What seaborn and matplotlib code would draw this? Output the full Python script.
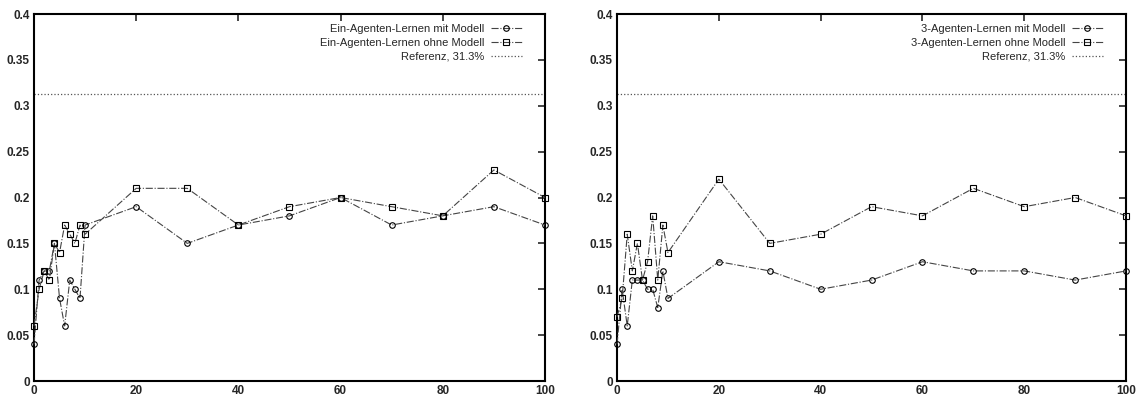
import pandas as pd
import seaborn as sns
from matplotlib import pyplot as plt

x_values = [0, 1, 2, 3, 4, 5, 6, 7, 8, 9, 10, 20, 30, 40, 50, 60, 70, 80, 90, 100]

ein_mit = [0.04, 0.11, 0.12, 0.12, 0.15, 0.09, 0.06, 0.11, 0.10, 0.09, 0.17,
           0.19, 0.15, 0.17, 0.18, 0.20, 0.17, 0.18, 0.19, 0.17]
ein_ohne = [0.06, 0.10, 0.12, 0.11, 0.15, 0.14, 0.17, 0.16, 0.15, 0.17, 0.16,
            0.21, 0.21, 0.17, 0.19, 0.20, 0.19, 0.18, 0.23, 0.20]

drei_mit = [0.04, 0.10, 0.06, 0.11, 0.11, 0.11, 0.10, 0.10, 0.08, 0.12, 0.09,
            0.13, 0.12, 0.10, 0.11, 0.13, 0.12, 0.12, 0.11, 0.12]
drei_ohne = [0.07, 0.09, 0.16, 0.12, 0.15, 0.11, 0.13, 0.18, 0.11, 0.17, 0.14,
             0.22, 0.15, 0.16, 0.19, 0.18, 0.21, 0.19, 0.20, 0.18]

referenz = 0.313
referenz_label = 'Referenz, 31.3%'

x_ticks = [0, 20, 40, 60, 80, 100]
y_ticks = [0, 0.05, 0.1, 0.15, 0.2, 0.25, 0.3, 0.35, 0.4]
y_labels = ['0', '0.05', '0.1', '0.15', '0.2', '0.25', '0.3', '0.35', '0.4']


def draw_panel(ax, mit, ohne, mit_label, ohne_label):
    df = pd.DataFrame({'x': x_values, 'mit': mit, 'ohne': ohne})
    sns.lineplot(data=df, x='x', y='mit', ax=ax, color='#444444', lw=0.8,
                 linestyle='-.', marker='o', markersize=4, markerfacecolor='none',
                 markeredgecolor='black', markeredgewidth=0.8, label=mit_label,
                 clip_on=False, zorder=3)
    sns.lineplot(data=df, x='x', y='ohne', ax=ax, color='#444444', lw=0.8,
                 linestyle='-.', marker='s', markersize=4, markerfacecolor='none',
                 markeredgecolor='black', markeredgewidth=0.8, label=ohne_label,
                 clip_on=False, zorder=3)
    ax.axhline(referenz, color='#555555', lw=0.9, linestyle=':', label=referenz_label)

    ax.set_xlim(0, 100)
    ax.set_ylim(0, 0.4)
    ax.set_xticks(x_ticks)
    ax.set_xticklabels([str(t) for t in x_ticks], fontweight='bold', fontsize=8.5)
    ax.set_yticks(y_ticks)
    ax.set_yticklabels(y_labels, fontweight='bold', fontsize=8.5)
    ax.set(xlabel='', ylabel='')
    ax.tick_params(direction='in', length=5, width=1.2, top=True, right=True, pad=3)
    for spine in ax.spines.values():
        spine.set_visible(True)
        spine.set_linewidth(1.5)
        spine.set_color('black')

    ax.legend(loc='upper right', frameon=False, markerfirst=False, fontsize=8,
              handlelength=2.8, handletextpad=0.6, labelspacing=0.35,
              borderaxespad=0.3, bbox_to_anchor=(0.97, 0.995))


sns.set_style('white')
plt.rcParams['font.family'] = ['Liberation Sans', 'DejaVu Sans']

fig = plt.figure(figsize=(11.37, 3.99), dpi=100)
ax1 = fig.add_axes([0.0299, 0.0451, 0.4494, 0.9198])
ax2 = fig.add_axes([0.5427, 0.0451, 0.4477, 0.9198])

draw_panel(ax1, ein_mit, ein_ohne, 'Ein-Agenten-Lernen mit Modell', 'Ein-Agenten-Lernen ohne Modell')
draw_panel(ax2, drei_mit, drei_ohne, '3-Agenten-Lernen mit Modell', '3-Agenten-Lernen ohne Modell')

fig.savefig('out.png', dpi=100)
